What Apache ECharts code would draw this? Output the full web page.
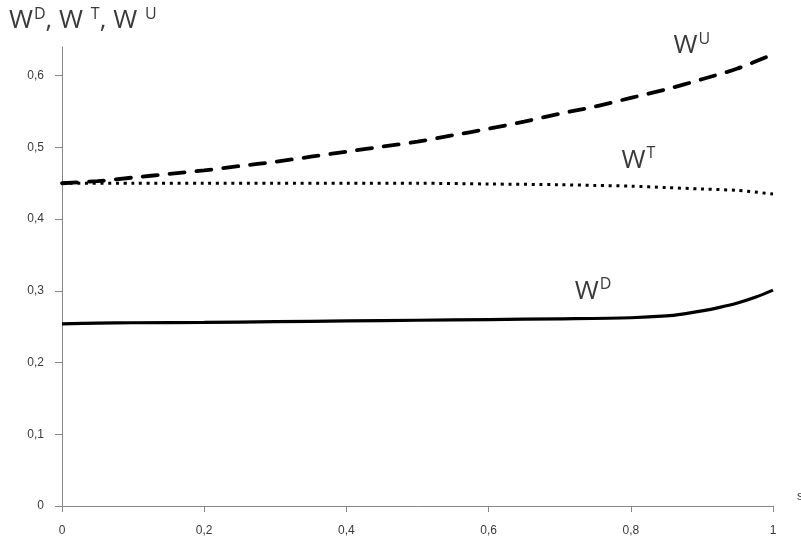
<!DOCTYPE html>
<html>
<head>
<meta charset="utf-8">
<script src="https://cdn.jsdelivr.net/npm/echarts@6/dist/echarts.min.js"></script>
<style>html,body{margin:0;padding:0;background:#fff}#c{width:801px;height:544px}</style>
</head>
<body>
<div id="c"></div>
<script>
// x positions (s)
const xU = [0, 0.05, 0.1, 0.15, 0.2, 0.25, 0.3, 0.35, 0.4, 0.45, 0.5, 0.55, 0.6, 0.65, 0.7, 0.75, 0.8, 0.85, 0.9, 0.95, 1.0];
const wU = [0.450, 0.453, 0.458, 0.463, 0.468, 0.474, 0.480, 0.487, 0.494, 0.501, 0.508, 0.517, 0.526, 0.536, 0.547, 0.557, 0.569, 0.581, 0.595, 0.610, 0.630];
const xT = [0, 0.1, 0.2, 0.3, 0.4, 0.5, 0.6, 0.7, 0.75, 0.8, 0.85, 0.9, 0.95, 1.0];
const wT = [0.450, 0.450, 0.450, 0.450, 0.450, 0.450, 0.449, 0.448, 0.447, 0.446, 0.444, 0.442, 0.440, 0.435];
const xD = [0, 0.05, 0.1, 0.2, 0.3, 0.4, 0.5, 0.6, 0.7, 0.8, 0.85, 0.875, 0.9, 0.925, 0.95, 0.975, 1.0];
const wD = [0.254, 0.255, 0.2555, 0.256, 0.257, 0.258, 0.259, 0.260, 0.261, 0.2625, 0.265, 0.268, 0.272, 0.277, 0.283, 0.291, 0.301];
const yTicks = [0, 0.1, 0.2, 0.3, 0.4, 0.5, 0.6];
const xTicks = [0, 0.2, 0.4, 0.6, 0.8, 1];
// curve labels: [main, superscript, x, y]
const curveLabels = [
  ['W', 'U', 0.860, 0.665],
  ['W', 'T', 0.787, 0.505],
  ['W', 'D', 0.721, 0.323]
];

const fmt = v => String(+v.toFixed(2)).replace('.', ',');
const chart = echarts.init(document.getElementById('c'));
const axisCol = '#868686';
const txtCol = '#3a3a3a';
const zip = (xs, ys) => xs.map((x, i) => [x, ys[i]]);

chart.setOption({
  animation: false,
  grid: {left: 62, right: 28, top: 47, bottom: 38},
  xAxis: {
    type: 'value', min: 0, max: 1, interval: 0.2,
    axisLine: {lineStyle: {color: axisCol, width: 1}},
    axisTick: {show: true, length: 6, lineStyle: {color: axisCol}},
    axisLabel: {color: txtCol, fontFamily: 'Liberation Sans', fontSize: 12, margin: 19, formatter: fmt},
    splitLine: {show: false}
  },
  yAxis: {
    type: 'value', min: 0, max: 0.64, interval: 0.1,
    axisLine: {show: true, lineStyle: {color: axisCol, width: 1}},
    axisTick: {show: true, length: 7, lineStyle: {color: axisCol}, customValues: yTicks},
    axisLabel: {color: txtCol, fontFamily: 'Liberation Sans', fontSize: 12, margin: 18, formatter: fmt, customValues: yTicks},
    splitLine: {show: false}
  },
  series: [
    {type: 'line', data: zip(xU, wU), smooth: 0.3, symbol: 'none',
     lineStyle: {color: '#000', width: 3.8, type: [15, 12], cap: 'round'}},
    {type: 'line', data: zip(xT, wT), smooth: 0.3, symbol: 'none',
     lineStyle: {color: '#000', width: 3, type: [3, 4.7]}},
    {type: 'line', data: zip(xD, wD), smooth: 0.3, symbol: 'none',
     lineStyle: {color: '#000', width: 3.2}}
  ]
});

const rich = {
  m: {fontSize: 26, fontFamily: 'Open Sans', fill: txtCol, verticalAlign: 'bottom', lineHeight: 30},
  s: {fontSize: 16, fontFamily: 'Open Sans', fill: txtCol, verticalAlign: 'top', lineHeight: 22, padding: [2, 0, 0, 1]}
};
const graphics = [{
  type: 'text', left: 9, top: 4,
  style: {
    text: '{m|W}{s|D}{m|, W }{s|T}{m|, W }{s|U}',
    rich: rich
  }
}, {
  type: 'text', left: 797, top: 491,
  style: {text: 's', fill: txtCol, font: '12px "Liberation Sans"'}
}];
curveLabels.forEach(([m, s, x, y]) => {
  const p = chart.convertToPixel({gridIndex: 0}, [x, y]);
  graphics.push({
    type: 'text', x: p[0], y: p[1],
    style: {text: '{m|' + m + '}{s|' + s + '}', rich: rich}
  });
});
chart.setOption({graphic: graphics});
</script>
</body>
</html>
